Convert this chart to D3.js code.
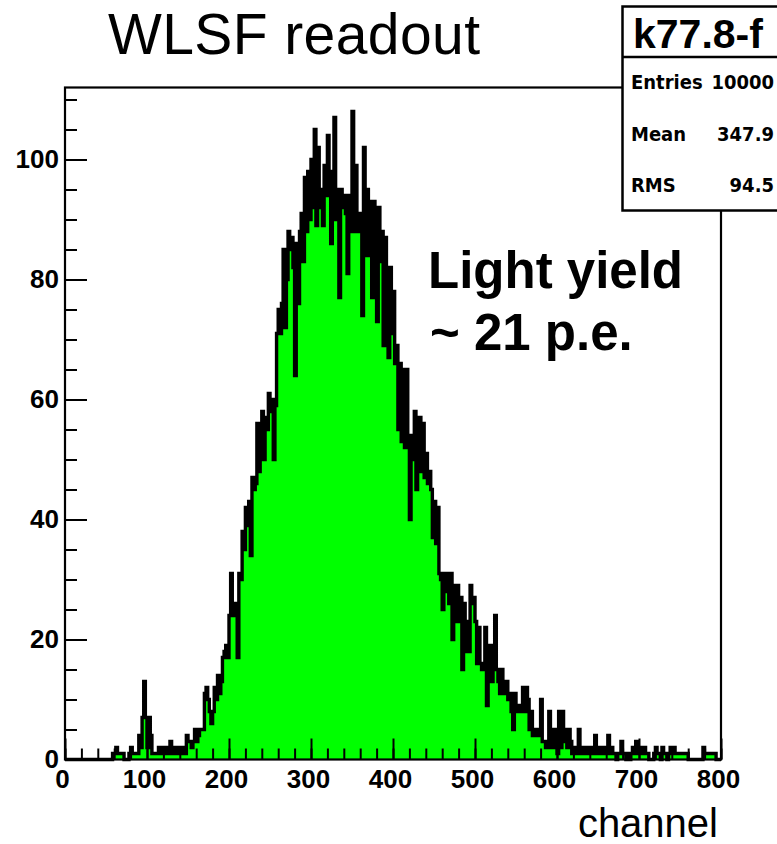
<!DOCTYPE html>
<html>
<head>
<meta charset="utf-8">
<script src="https://cdn.jsdelivr.net/npm/d3@7"></script>
<style>
  body { margin: 0; background: #fff; }
  svg { display: block; }
</style>
</head>
<body>
<div id="vis"></div>
<script>
// histogram counts, one value per 2-channel bin from 0 to 800
const BIN_WIDTH = 2;
const COUNTS = [
  0,0,0,0,0,0,0,0,0,0,
  0,0,0,0,0,0,0,0,0,0,
  0,0,0,0,0,0,0,0,0,1,
  1,2,1,1,1,1,0,0,0,1,
  2,1,1,1,1,4,2,7,13,7,
  2,7,4,1,1,1,1,2,1,2,
  1,2,2,1,3,1,2,1,1,2,
  1,1,2,1,4,3,3,2,3,5,
  3,4,5,5,5,11,12,10,8,6,
  8,12,10,14,11,13,17,18,19,17,
  24,31,25,24,26,17,31,30,38,35,
  42,39,43,34,47,45,46,56,48,55,
  58,50,57,55,61,58,60,50,59,71,
  75,71,76,85,72,80,88,85,87,82,
  64,86,76,88,91,83,97,88,98,90,
  100,92,105,89,102,92,95,89,99,94,
  104,95,86,98,107,90,95,77,95,92,
  94,91,81,94,88,108,88,99,91,88,
  91,74,102,84,95,93,84,77,93,84,
  73,92,83,88,69,87,75,67,82,71,
  78,66,69,55,66,53,65,52,65,54,
  40,54,50,58,45,50,57,48,56,47,
  51,46,48,45,37,43,36,42,31,30,
  25,31,28,31,26,31,20,29,23,29,
  23,27,15,26,18,23,18,29,26,27,
  23,16,22,16,15,16,22,9,16,19,
  13,19,24,15,13,11,15,13,11,13,
  10,11,8,5,11,8,9,8,9,12,
  8,12,10,5,8,4,5,5,4,5,
  10,3,3,2,3,8,2,5,2,5,
  1,8,2,8,3,5,2,5,3,1,
  1,2,1,5,1,2,1,2,1,2,
  1,2,1,4,1,2,1,1,2,1,
  1,4,1,2,1,1,0,1,1,3,
  1,1,0,1,0,1,2,1,3,1,
  2,1,1,2,1,1,0,0,0,1,
  2,1,1,0,2,1,1,0,1,2,
  1,2,1,1,1,1,1,1,1,1,
  0,0,0,0,0,0,0,0,0,2,
  1,1,1,1,1,1,1,0,0,0
];

// axis ticks
const X_MAJOR = [0, 100, 200, 300, 400, 500, 600, 700, 800];
const X_MINOR = d3.range(0, 801, 20);
const Y_MAJOR = [0, 20, 40, 60, 80, 100];
const Y_MINOR = d3.range(0, 111, 5);

// stats box
const STAT_TITLE = "k77.8-f";
const STAT_NAMES = ["Entries", "Mean", "RMS"];
const STAT_VALUES = ["10000", "347.9", "94.5"];

// set constants
const FRAME_WIDTH = 777;
const FRAME_HEIGHT = 844;
const PLOT = {left: 65, right: 721, top: 87.5, bottom: 759.5};
const FONT = "Liberation Sans, Arial, sans-serif";

const svg = d3.select("#vis")
  .append("svg")
    .attr("width", FRAME_WIDTH)
    .attr("height", FRAME_HEIGHT);

svg.append("rect")
  .attr("width", FRAME_WIDTH)
  .attr("height", FRAME_HEIGHT)
  .attr("fill", "#fff");

// scales
const X_SCALE = d3.scaleLinear().domain([0, 800]).range([PLOT.left, PLOT.right]);
const Y_SCALE = d3.scaleLinear().domain([0, 112]).range([PLOT.bottom, PLOT.top]);

// bins as step points, with a closing point at the upper edge
const points = COUNTS.map((c, i) => ({x: i * BIN_WIDTH, y: c}));
points.push({x: COUNTS.length * BIN_WIDTH, y: COUNTS[COUNTS.length - 1]});

// green fill
svg.append("path")
  .datum(points)
  .attr("fill", "#00ff00")
  .attr("d", d3.area()
    .curve(d3.curveStepAfter)
    .x(d => X_SCALE(d.x))
    .y0(Y_SCALE(0))
    .y1(d => Y_SCALE(d.y)));

// black outline
svg.append("path")
  .datum(points)
  .attr("fill", "none")
  .attr("stroke", "#000")
  .attr("stroke-width", 3.4)
  .attr("d", d3.line()
    .curve(d3.curveStepAfter)
    .x(d => X_SCALE(d.x))
    .y(d => Y_SCALE(d.y)));

// frame
svg.append("rect")
  .attr("x", PLOT.left)
  .attr("y", PLOT.top)
  .attr("width", PLOT.right - PLOT.left)
  .attr("height", PLOT.bottom - PLOT.top)
  .attr("fill", "none")
  .attr("stroke", "#000")
  .attr("stroke-width", 2.2);

// x axis minor ticks
svg.append("g")
  .attr("transform", "translate(0," + PLOT.bottom + ")")
  .call(d3.axisBottom(X_SCALE).tickValues(X_MINOR).tickSize(-11).tickFormat(""))
  .call(g => g.select(".domain").remove())
  .selectAll("line").attr("stroke-width", 2);

// x axis major ticks and labels
svg.append("g")
  .attr("transform", "translate(0," + PLOT.bottom + ")")
  .call(d3.axisBottom(X_SCALE).tickValues(X_MAJOR).tickSize(-21).tickPadding(10).tickFormat(d3.format("d")))
  .call(g => g.select(".domain").remove())
  .call(g => g.selectAll("line").attr("stroke-width", 2))
  .call(g => g.selectAll("text")
    .attr("dx", -3)
    .attr("font-family", FONT)
    .attr("font-weight", "bold")
    .attr("font-size", 26)
    .attr("fill", "#000"));

// y axis minor ticks
svg.append("g")
  .attr("transform", "translate(" + PLOT.left + ",0)")
  .call(d3.axisLeft(Y_SCALE).tickValues(Y_MINOR).tickSize(-12).tickFormat(""))
  .call(g => g.select(".domain").remove())
  .selectAll("line").attr("stroke-width", 2);

// y axis major ticks and labels
svg.append("g")
  .attr("transform", "translate(" + PLOT.left + ",0)")
  .call(d3.axisLeft(Y_SCALE).tickValues(Y_MAJOR).tickSize(-22).tickPadding(6).tickFormat(d3.format("d")))
  .call(g => g.select(".domain").remove())
  .call(g => g.selectAll("line").attr("stroke-width", 2))
  .call(g => g.selectAll("text")
    .attr("dy", "0.3em")
    .attr("font-family", FONT)
    .attr("font-weight", "bold")
    .attr("font-size", 26)
    .attr("fill", "#000"));

// x axis title
svg.append("text")
  .attr("x", 718)
  .attr("y", 837)
  .attr("text-anchor", "end")
  .attr("font-family", FONT)
  .attr("font-size", 40)
  .text("channel");

// title
svg.append("text")
  .attr("x", 108)
  .attr("y", 54)
  .attr("font-family", FONT)
  .attr("font-size", 57)
  .attr("textLength", 372)
  .text("WLSF readout");

// annotation
svg.append("text")
  .attr("x", 428)
  .attr("y", 288)
  .attr("font-family", FONT)
  .attr("font-weight", "bold")
  .attr("font-size", 51)
  .text("Light yield");

svg.append("text")
  .attr("x", 430)
  .attr("y", 350)
  .attr("font-family", FONT)
  .attr("font-weight", "bold")
  .attr("font-size", 51)
  .text("~ 21 p.e.");

// stats box
const stats = svg.append("g");
stats.append("rect")
  .attr("x", 622.5)
  .attr("y", 6.5)
  .attr("width", 170)
  .attr("height", 204)
  .attr("fill", "#fff")
  .attr("stroke", "#000")
  .attr("stroke-width", 2.5);

stats.append("line")
  .attr("x1", 622.5).attr("x2", 790)
  .attr("y1", 57).attr("y2", 57)
  .attr("stroke", "#000")
  .attr("stroke-width", 2.5);

stats.append("text")
  .attr("x", 633)
  .attr("y", 48)
  .attr("font-family", FONT)
  .attr("font-weight", "bold")
  .attr("font-size", 41)
  .text(STAT_TITLE);

stats.selectAll(".stat-name")
  .data(STAT_NAMES)
  .enter()
  .append("text")
    .attr("class", "stat-name")
    .attr("x", 631)
    .attr("y", (d, i) => 89 + i * 51.5)
    .attr("font-family", "DejaVu Sans Condensed, DejaVu Sans, sans-serif")
    .attr("font-weight", "bold")
    .attr("font-size", 20)
    .text(d => d);

stats.selectAll(".stat-value")
  .data(STAT_VALUES)
  .enter()
  .append("text")
    .attr("class", "stat-value")
    .attr("x", 774)
    .attr("y", (d, i) => 89 + i * 51.5)
    .attr("text-anchor", "end")
    .attr("font-family", "DejaVu Sans Condensed, DejaVu Sans, sans-serif")
    .attr("font-weight", "bold")
    .attr("font-size", 20)
    .text(d => d);
</script>
</body>
</html>
